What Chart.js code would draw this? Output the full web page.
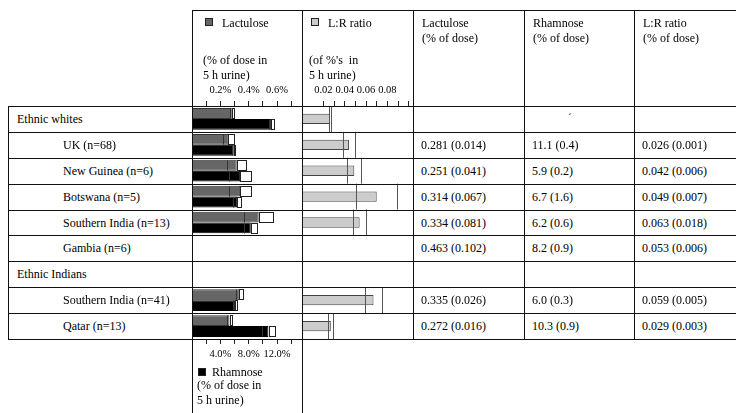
<!DOCTYPE html>
<html>
<head>
<meta charset="utf-8">
<script src="https://cdn.jsdelivr.net/npm/chart.js@4.4.1/dist/chart.umd.min.js"></script>
<style>
  html, body { margin: 0; padding: 0; background: #fff; }
  #page { position: relative; width: 736px; height: 413px; overflow: hidden;
          font-family: "Liberation Serif", "Times New Roman", serif; color: #000; }
  .ln { position: absolute; background: #111; }
  .t { position: absolute; white-space: pre; }
  .sw { position: absolute; width: 6px; height: 6px; border: 1px solid #222; }
  canvas { position: absolute; }
</style>
</head>
<body>
<div id="page">
  <canvas id="c1" width="110" height="293" style="left:192px;top:76px"></canvas>
  <canvas id="c2" width="111" height="263" style="left:302px;top:76px"></canvas>
</div>
<script>
// rows of the table
const rowLabels = ['Ethnic whites', 'UK (n=68)', 'New Guinea (n=6)', 'Botswana (n=5)',
  'Southern India (n=13)', 'Gambia (n=6)', 'Ethnic Indians', 'Southern India (n=41)', 'Qatar (n=13)'];
const rowIndent = [0, 1, 1, 1, 1, 1, 0, 1, 1];

// bars as they are drawn in the figure (mean and SE)
const lactBar = [0.281, 0.257, 0.316, 0.340, 0.471, null, null, 0.335, 0.265];
const lactBarSe = [0.014, 0.041, 0.067, 0.081, 0.102, null, null, 0.026, 0.016];
const rhamBar = [11.2, 5.9, 6.8, 6.4, 8.3, null, null, 6.1, 10.8];
const rhamBarSe = [0.4, 0.2, 1.6, 0.6, 0.9, null, null, 0.3, 0.9];
const lrBar = [0.026, 0.044, 0.049, 0.070, 0.054, null, null, 0.067, 0.027];
const lrBarSe = [0.001, 0.006, 0.0065, 0.019, 0.0063, null, null, 0.008, 0.0024];

// numbers printed in the table
const lactMean = [null, 0.281, 0.251, 0.314, 0.334, 0.463, null, 0.335, 0.272];
const lactSe = [null, 0.014, 0.041, 0.067, 0.081, 0.102, null, 0.026, 0.016];
const rhamMean = [null, 11.1, 5.9, 6.7, 6.2, 8.2, null, 6.0, 10.3];
const rhamSe = [null, 0.4, 0.2, 1.6, 0.6, 0.9, null, 0.3, 0.9];
const lrMean = [null, 0.026, 0.042, 0.049, 0.063, 0.053, null, 0.059, 0.029];
const lrSe = [null, 0.001, 0.006, 0.007, 0.018, 0.006, null, 0.005, 0.003];

// axes
const lactTicks = [0.1, 0.2, 0.3, 0.4, 0.5, 0.6, 0.7];
const lactTickLabels = ['', '0.2%', '', '0.4%', '', '0.6%', ''];
const rhamTicks = [2, 4, 6, 8, 10, 12, 14];
const rhamTickLabels = ['', '4.0%', '', '8.0%', '', '12.0%', ''];
const lrTicks = [0.02, 0.03, 0.04, 0.05, 0.06, 0.07, 0.08, 0.09, 0.10];
const lrTickLabels = ['0.02', '', '0.04', '', '0.06', '', '0.08', '', ''];
const lactMax = 0.776;
const rhamMax = 15.52;
const lrMax = 0.104;

const gridTop = 106;
const gridBottom = 339;
const rowH = (gridBottom - gridTop) / rowLabels.length;
const page = document.getElementById('page');

function line(x, y, w, h) {
  const d = document.createElement('div');
  d.className = 'ln';
  d.style.cssText = `left:${x}px;top:${y}px;width:${w}px;height:${h}px`;
  page.appendChild(d);
}
function text(s, x, cy, size) {
  const d = document.createElement('div');
  const lh = Math.round(size * 1.2);
  d.className = 't';
  d.textContent = s;
  d.style.cssText = `left:${x}px;top:${cy - lh / 2}px;font-size:${size}px;line-height:${lh}px`;
  page.appendChild(d);
}
function swatch(x, y, fill) {
  const d = document.createElement('div');
  d.className = 'sw';
  d.style.left = x + 'px';
  d.style.top = y + 'px';
  d.style.background = fill;
  page.appendChild(d);
}

// header texts
swatch(205, 18, '#666'); text('Lactulose', 222, 23, 12);
text('(% of dose in', 203, 59.5, 12); text('5 h urine)', 203, 75, 12);
swatch(311, 18, '#ccc'); text('L:R ratio', 328, 23, 12);
text("(of %'s  in", 309, 59.5, 12); text('5 h urine)', 309, 75, 12);
text('Lactulose', 422, 23, 12); text('(% of dose)', 422, 37.5, 12);
text('Rhamnose', 533, 23, 12); text('(% of dose)', 533, 37.5, 12);
text('L:R ratio', 643, 23, 12); text('(% of dose)', 643, 37.5, 12);

// bottom legend for rhamnose
swatch(198, 368, '#000'); text('Rhamnose', 212, 372, 12);
text('(% of dose in', 197, 385, 12); text('5 h urine)', 197, 400, 12);

// table body
rowLabels.forEach((lab, i) => {
  const cy = gridTop + (i + 0.5) * rowH;
  text(lab, rowIndent[i] ? 63 : 17, cy, 12);
  if (lactMean[i] != null) {
    text(`${lactMean[i].toFixed(3)} (${lactSe[i].toFixed(3)})`, 421, cy, 12);
    text(`${rhamMean[i].toFixed(1)} (${rhamSe[i].toFixed(1)})`, 532, cy, 12);
    text(`${lrMean[i].toFixed(3)} (${lrSe[i].toFixed(3)})`, 642, cy, 12);
  }
});
text('\u02CA', 568, gridTop + 0.5 * rowH - 1, 11);

// SE marks drawn from the bar elements and the x scales
const seMarks = {
  id: 'seMarks',
  afterDatasetsDraw(chart, args, opts) {
    const ctx = chart.ctx;
    const ys = chart.scales.y;
    const band = ys.height / chart.data.labels.length;
    ctx.save();
    ctx.lineWidth = 1;
    opts.sets.forEach(set => {
      const meta = chart.getDatasetMeta(set.dataset);
      const xs = chart.scales[meta.xAxisID];
      const values = chart.data.datasets[set.dataset].data;
      meta.data.forEach((bar, i) => {
        const m = values[i];
        const se = set.se[i];
        if (m == null || se == null) return;
        const p = bar.getProps(['y', 'height'], true);
        const xm = xs.getPixelForValue(m);
        const xlo = xs.getPixelForValue(m - se);
        const xhi = xs.getPixelForValue(m + se);
        if (opts.mode === 'box') {
          const top = Math.round(p.y - p.height / 2) + 0.5;
          const h = Math.round(p.height) - 1;
          ctx.fillStyle = '#fff';
          ctx.strokeStyle = '#222';
          ctx.fillRect(xm, top, xhi - xm, h);
          ctx.strokeRect(Math.round(xm) + 0.5, top, Math.max(1, Math.round(xhi - xm)), h);
          ctx.strokeStyle = '#333';
          ctx.beginPath();
          ctx.moveTo(Math.round(xlo) + 0.5, top);
          ctx.lineTo(Math.round(xlo) + 0.5, top + h);
          ctx.stroke();
        } else {
          const cy = ys.getPixelForValue(i);
          ctx.strokeStyle = '#555';
          [xlo, xhi].forEach(x => {
            ctx.beginPath();
            ctx.moveTo(Math.round(x) + 0.5, cy - band / 2);
            ctx.lineTo(Math.round(x) + 0.5, cy + band / 2);
            ctx.stroke();
          });
        }
      });
    });
    ctx.restore();
  }
};

const tickFont = { family: 'Liberation Serif', size: 10.5 };

function xAxis(pos, max, ticks, labels) {
  return {
    type: 'linear',
    position: pos,
    min: 0,
    max: max,
    afterBuildTicks: s => { s.ticks = ticks.map(v => ({ value: v })); },
    afterFit: s => { s.height = 30; },
    grid: { drawOnChartArea: false, tickLength: 5, color: '#222' },
    border: { display: false },
    ticks: {
      autoSkip: false, maxRotation: 0, padding: 4, color: '#000', font: tickFont,
      callback: (v, i) => labels[i]
    }
  };
}

new Chart(document.getElementById('c1'), {
  type: 'bar',
  data: {
    labels: rowLabels,
    datasets: [
      { label: 'Lactulose', data: lactBar, xAxisID: 'xl', backgroundColor: '#666', borderColor: '#333', borderWidth: 1 },
      { label: 'Rhamnose', data: rhamBar, xAxisID: 'xr', backgroundColor: '#000', borderColor: '#000', borderWidth: 1 }
    ]
  },
  options: {
    indexAxis: 'y',
    responsive: false,
    animation: false,
    layout: { padding: 0 },
    datasets: { bar: { categoryPercentage: 0.84, barPercentage: 1 } },
    scales: {
      y: { display: false },
      xl: xAxis('top', lactMax, lactTicks, lactTickLabels),
      xr: xAxis('bottom', rhamMax, rhamTicks, rhamTickLabels)
    },
    plugins: {
      legend: { display: false },
      tooltip: { enabled: false },
      seMarks: { mode: 'box', sets: [{ dataset: 0, se: lactBarSe }, { dataset: 1, se: rhamBarSe }] }
    }
  },
  plugins: [seMarks]
});

new Chart(document.getElementById('c2'), {
  type: 'bar',
  data: {
    labels: rowLabels,
    datasets: [
      { label: 'L:R ratio', data: lrBar, xAxisID: 'x', backgroundColor: '#ccc', borderColor: '#444', borderWidth: 1 }
    ]
  },
  options: {
    indexAxis: 'y',
    responsive: false,
    animation: false,
    layout: { padding: 0 },
    datasets: { bar: { categoryPercentage: 1, barPercentage: 0.4 } },
    scales: {
      y: { display: false },
      x: xAxis('top', lrMax, lrTicks, lrTickLabels)
    },
    plugins: {
      legend: { display: false },
      tooltip: { enabled: false },
      seMarks: { mode: 'lines', sets: [{ dataset: 0, se: lrBarSe }] }
    }
  },
  plugins: [seMarks]
});

// table rules
line(192, 10, 544, 1);
for (let i = 0; i <= rowLabels.length; i++) {
  line(8, Math.round(gridTop + i * rowH), 728, 1);
}
line(8, gridTop, 1, gridBottom - gridTop + 1);
line(192, 10, 1, 403);
line(302, 10, 1, 403);
[413, 524, 634].forEach(x => line(x, 10, 1, gridBottom - 10 + 1));
</script>
</body>
</html>
